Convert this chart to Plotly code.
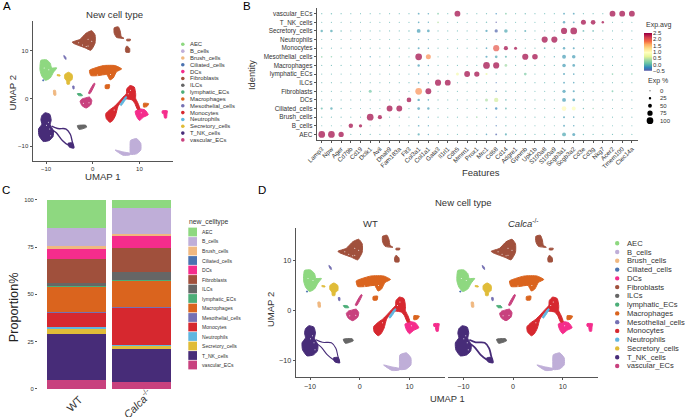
import plotly.graph_objects as go

W, H = 685, 417
FONT = "Liberation Sans"
DARK = "#333333"

# ---------- shared categories ----------
cell_types = ["AEC", "B_cells", "Brush_cells", "Ciliated_cells", "DCs", "Fibroblasts", "ILCs",
              "lymphatic_ECs", "Macrophages", "Mesothelial_cells", "Monocytes", "Neutrophils",
              "Secretory_cells", "T_NK_cells", "vascular_ECs"]
colors = ["#8ED880", "#BFAED8", "#F0B880", "#4A72B0", "#F52C8C", "#A0503C", "#666666",
          "#4CAE78", "#DA641E", "#7570B3", "#D6282F", "#60B6E0", "#E0BC38", "#472C78", "#C8417E"]

# ---------- panel C: proportions, bottom to top order is reversed cell_types ----------
prop_wt = [15.2, 9.4, 1.0, 0.1, 5.7, 12.9, 1.0, 0.8, 13.4, 0.3, 7.6, 1.1, 2.6, 24.2, 4.8]
prop_ko = [4.4, 13.8, 0.4, 0.1, 6.9, 12.7, 3.9, 0.4, 14.1, 0.4, 19.6, 0.2, 2.3, 17.3, 3.5]
conditions = ["WT", "<i>Calca</i><sup>-/-</sup>"]

# ---------- panel B: dot plot ----------
features = ["Lamp3", "Npw", "Ager", "Cd79b", "Cd19", "Dclk1", "Avil", "Dnah9", "Fam183a", "Flt3",
            "Col3a1", "Col1a1", "Gata3", "Il1rl1", "Cdh5", "Mmrn1", "Prox1", "Mrc1", "Cd68", "Cd14",
            "Adgre1", "Gpnmb", "Upk1b", "S100a8", "S100a9", "Scgb3a1", "Scgb3a2", "Cd3e", "Cd3g",
            "Nkg7", "Acer2", "Tmem100", "Clec14a"]
pct = {
 "AEC":               [100,100,75,3,3,5,5,3,3,3,22,8,5,3,3,3,3,10,15,20,3,5,3,3,3,50,35,8,5,3,5,3,3],
 "B_cells":           [3,3,3,60,40,3,3,2,2,3,12,6,3,3,3,3,3,3,6,6,2,3,3,2,2,15,10,3,3,3,3,3,3],
 "Brush_cells":       [5,5,5,3,3,100,55,3,3,3,6,5,3,3,3,3,10,3,5,5,3,3,3,3,3,18,10,3,3,3,3,3,3],
 "Ciliated_cells":    [20,25,6,3,3,5,3,85,85,5,30,25,5,3,3,3,3,10,25,15,3,5,5,3,3,65,50,8,6,3,3,3,3],
 "DCs":               [3,3,3,3,3,3,3,3,3,65,25,10,5,3,3,3,3,35,60,10,3,5,3,3,3,50,30,5,5,5,5,3,3],
 "Fibroblasts":       [3,5,3,3,3,35,3,3,3,3,100,85,3,3,5,3,3,5,10,8,3,3,3,3,3,40,20,3,5,3,15,3,3],
 "ILCs":              [3,3,3,3,3,3,3,3,3,3,12,8,90,85,3,3,3,3,5,3,3,3,3,3,3,15,10,3,3,3,3,3,3],
 "lymphatic_ECs":     [3,5,3,3,3,3,3,3,3,3,10,8,3,3,35,85,75,20,6,5,3,30,3,3,3,18,12,3,3,3,12,3,10],
 "Macrophages":       [3,5,5,3,3,3,3,3,3,3,25,10,3,3,3,3,3,100,90,30,3,5,5,3,3,45,30,3,3,3,3,3,3],
 "Mesothelial_cells": [12,10,5,3,3,8,3,3,3,3,100,70,3,3,3,3,3,20,30,20,3,90,80,3,8,50,45,3,3,3,3,3,3],
 "Monocytes":         [3,3,3,3,3,3,3,3,3,3,18,10,3,3,3,3,3,12,90,55,35,3,3,12,5,25,18,3,3,3,3,3,3],
 "Neutrophils":       [2,2,2,2,2,2,2,2,2,2,6,4,2,2,2,2,2,2,3,2,2,2,2,90,90,10,8,2,2,2,2,2,2],
 "Secretory_cells":   [25,28,10,3,3,3,3,3,3,8,50,30,3,3,3,3,3,22,40,45,3,18,3,3,3,90,100,15,12,3,3,3,3],
 "T_NK_cells":        [3,5,3,3,3,3,3,3,3,3,12,8,15,3,3,3,3,8,8,3,3,3,3,3,3,25,15,70,65,25,3,3,3],
 "vascular_ECs":      [5,8,5,3,3,3,3,3,3,3,15,10,15,3,85,3,3,5,10,15,3,8,3,3,3,15,15,5,5,3,85,85,85],
}
avg = {
 "AEC":               [2.5,2.5,2.5,0,0,0,0,0,0,0,-.05,-.1,0,0,0,0,0,-.1,-.4,-.05,0,0,0,0,0,-.05,-.1,0,0,0,0,0,0],
 "B_cells":           [0,0,0,2.5,2.5,0,0,0,0,0,-.1,-.1,0,0,0,0,0,0,-.3,0,0,0,0,0,0,-.1,-.1,0,0,0,0,0,0],
 "Brush_cells":       [0,0,0,0,0,2.5,2.5,0,0,0,-.1,-.1,0,0,0,0,.3,0,-.2,0,0,0,0,0,0,-.1,-.1,0,0,0,0,0,0],
 "Ciliated_cells":    [.05,-.05,0,0,0,0,0,2.5,2.5,0,-.1,-.1,0,0,0,0,0,-.1,-.2,0,0,0,0,0,0,1.05,.95,0,.2,0,0,0,0],
 "DCs":               [0,0,0,0,0,0,0,0,0,2.5,-.1,-.1,0,0,0,0,0,.4,.6,0,0,0,0,0,0,-.1,-.1,0,0,0,0,0,0],
 "Fibroblasts":       [0,0,0,0,0,.15,0,0,0,0,1.75,2.5,0,0,0,0,0,0,-.3,0,0,0,0,0,0,-.1,-.1,0,0,0,.15,0,0],
 "ILCs":              [0,0,0,0,0,0,0,0,0,0,-.1,-.1,2.5,2.5,0,0,0,0,-.3,0,0,0,0,0,0,-.1,-.1,0,0,0,0,0,0],
 "lymphatic_ECs":     [0,0,0,0,0,0,0,0,0,0,-.1,-.1,0,0,.85,2.5,2.5,.7,0,0,0,.2,0,0,0,-.1,-.1,0,0,0,.2,0,.15],
 "Macrophages":       [0,0,0,0,0,0,0,0,0,0,-.1,-.1,0,0,0,0,0,2.5,2.5,.35,0,0,0,0,0,-.1,-.1,0,0,0,0,0,0],
 "Mesothelial_cells": [.25,.2,0,0,0,-.1,0,0,0,0,2.5,1.75,0,0,0,0,0,-.1,-.05,0,0,2.5,2.5,0,-.05,-.1,-.1,0,0,0,0,0,0],
 "Monocytes":         [0,0,0,0,0,0,0,0,0,0,-.1,-.1,0,0,0,0,0,-.1,2.05,2.5,2.5,0,0,-.05,0,-.1,-.1,0,0,0,0,0,0],
 "Neutrophils":       [0,0,0,0,0,0,0,0,0,0,-.1,-.1,0,0,0,0,0,0,-.1,0,0,0,0,2.5,2.5,-.1,-.1,0,0,0,0,0,0],
 "Secretory_cells":   [-.05,-.05,0,0,0,0,0,0,0,0,-.1,-.1,0,0,0,0,0,-.1,-.4,-.05,0,-.05,0,0,0,2.5,2.5,0,0,0,0,0,0],
 "T_NK_cells":        [0,0,0,0,0,0,0,0,0,0,-.1,-.1,.45,0,0,0,0,0,-.45,0,0,0,0,0,0,-.1,-.1,2.5,2.5,2.5,0,0,0],
 "vascular_ECs":      [0,0,0,0,0,0,0,0,0,0,-.1,-.1,.2,0,2.5,0,0,0,-.2,.2,0,0,0,0,0,-.1,-.1,0,0,0,2.5,2.5,2.5],
}
exp_pct_levels = [0, 25, 50, 75, 100]
avg_ticks = [-0.5, 0.0, 0.5, 1.0, 1.5, 2.0, 2.5]
avg_scale = [-0.5, -0.2, 0.1, 0.4, 0.7, 1.0, 1.3, 1.6, 1.9, 2.2, 2.5]

# ---------- UMAP cluster outlines (UMAP coordinates) ----------
outlines = {
 "AEC": [[(-11.1,8),(-9.9,8.1),(-9.1,7.4),(-8.8,6.4),(-7.7,6.4),(-8.4,5.5),(-9.1,4.3),(-10.1,3.8),(-10.9,4.7),(-11.3,6)]],
 "B_cells": [[(8.1,-8.8),(9.4,-8.4),(10.3,-9.4),(10.3,-10.8),(9.4,-11.6),(8.1,-11.7),(8,-10.1)],
             [(4.8,-10.8),(6.5,-11.2),(8,-11.5),(8,-11.8),(6.5,-11.9)]],
 "Brush_cells": [[(-8.4,1.7),(-8,1.7),(-7.9,0.7),(-8.3,0.7)]],
 "Ciliated_cells": [[(-10.7,3.9),(-10.5,3.9),(-10.5,3.7),(-10.7,3.7)]],
 "DCs": [[(9.1,-2.7),(10.1,-2.2),(11.2,-2.4),(11.9,-3.4),(10.9,-3.9),(10,-4.6),(9.4,-3.8)],
         [(14.9,-2.6),(16,-2.6),(15.9,-3.3),(15.8,-4.1),(15.4,-4.1),(15.2,-3.2),(14.9,-3.1)]],
 "Fibroblasts": [[(-4.4,11.8),(-2.7,12.4),(-1.4,13.7),(-0.2,14.2),(0.5,13.3),(0.5,11.6),(-0.4,10.1),(-1.6,10.6),(-2.7,11),(-4,11.5)],
                 [(4.6,14.8),(5.5,15),(5.9,14.1),(6.1,13),(6.7,12.6),(5.1,12.8),(4.6,13.7)],
                 [(7.3,11),(7.9,10.5),(7.9,9.7),(7.1,9.7),(7,10.4)],
                 [(7.3,12.4),(8.1,12.4),(8,12.1),(7.3,12.1)]],
 "ILCs": [[(-3.3,-5.7),(-1.5,-5.6),(-1.3,-6),(-2.9,-6.5)]],
 "lymphatic_ECs": [[(-3.3,1),(-2.5,1),(-2.2,0.6),(-3,0.6)]],
 "Macrophages": [[(-0.7,5.9),(0.5,6.4),(2.3,6.9),(4.8,6.9),(6.2,6.2),(5.1,5.6),(4.4,4.3),(3.7,3.9),(3,5),(1.2,4.8),(-0.4,4.8)],
                 [(2.7,2.8),(3.6,2.9),(3.5,2.1),(2.7,2.1)],
                 [(10.9,-1),(12,-1.1),(11.6,-1.7),(10.9,-1.8)]],
 "Mesothelial_cells": [[(-6.2,9),(-5.8,8.7),(-5.7,8.2),(-6,8.4)],[(-4.3,2.6),(-4,2.6),(-4,2),(-4.2,2)]],
 "Monocytes": [[(7.3,2),(8,2.7),(8.9,2.4),(9.2,1),(9.2,0),(9.7,-1),(10.1,-2.2),(9.6,-2.3),(9,-1),(8.4,-0.3),(7.2,-0.1),
                (6.3,-0.5),(5.4,-1.7),(4.9,-3.5),(4.3,-4.6),(3.7,-5),(2.9,-4.2),(2.8,-3.2),(3.6,-2.4),(4.6,-1.7),
                (5.6,-0.7),(6.7,0.5),(7.2,1)]],
 "Neutrophils": [[(5.9,-1.3),(7.1,0.4),(7.3,0.3),(6.1,-1.5)]],
 "Secretory_cells": [[(-6,5),(-5.2,5.5),(-4.4,5),(-4.4,4),(-4.9,3.6),(-5,3),(-5.5,3),(-5.6,3.7),(-6,4.2)],
                     [(-7.6,5),(-7,4.9),(-7,4.7),(-7.6,4.8)]],
 "T_NK_cells": [[(-10.9,-3.6),(-10.2,-3),(-9.2,-3.3),(-8.9,-4.5),(-9.1,-5.5),(-8.4,-6.8),(-8.5,-8),(-9.3,-8.8),
                 (-10.6,-9),(-11.5,-7.8),(-11.6,-6.4),(-10.9,-5.4),(-11.1,-4.5)],
                [(-5.3,-9.4),(-4.4,-9.3),(-4,-10.4),(-5,-10.2)]],
 "vascular_ECs": [[(-1.6,0.1),(-0.7,0.3),(-0.2,-0.4),(-0.4,-1.3),(-1.4,-2),(-2.3,-1.5),(-2.7,-0.6),(-2.3,-0.1)],
                  [(-0.9,1.1),(0.3,3.2),(0.5,3.1),(-0.6,1)]],
}
tnk_loop_x = [-8.8,-7.5,-5.7,-4.8,-4.4,-4.1,-5.2,-6.5,-7.8,-8.8]
tnk_loop_y = [-5.8,-6.3,-6.4,-7.5,-9,-10.2,-9.8,-8.8,-7.2,-6.5]
# white gaps between cells seen inside the large clusters
gap_x = [-2.2,-3,-1,-9.5,-9.2,-9,-9.9,-1.4,1,3.8,8.1,7.6,4.6,10.4,-10.4,-9.4,-2,-0.8,-1,-0.2]
gap_y = [11.2,11.7,11,-5,-6.4,-7.8,-5.6,10.9,4.9,5,1.7,1,-2.4,-3,6.4,6,-1,-0.9,12.4,12]

# ---------- layout helpers ----------
def dom_x(a, b):
    return [a / W, b / W]

def dom_y(bottom, top):
    return [1 - bottom / H, 1 - top / H]

fig = go.Figure()
shapes, notes = [], []

def text(x, y, s, size, color=DARK, anchor="left", angle=0, family=FONT):
    notes.append(dict(xref="paper", yref="paper", x=x / W, y=1 - y / H, text=s, showarrow=False,
                      xanchor=anchor, yanchor="middle", textangle=angle, borderpad=0,
                      font=dict(family=family, size=size, color=color)))

def umap_panel(xa, ya, loop_width=1.4, marker_gap=1.0):
    for name, col in zip(cell_types, colors):
        xs, ys = [], []
        for poly in outlines[name]:
            xs += [p[0] for p in poly] + [poly[0][0], None]
            ys += [p[1] for p in poly] + [poly[0][1], None]
        fig.add_trace(go.Scatter(x=xs, y=ys, mode="lines", fill="toself", fillcolor=col,
                                 line=dict(color=col, width=1, shape="spline", smoothing=0.5), xaxis=xa, yaxis=ya,
                                 name=name, showlegend=False, hoverinfo="name"))
    fig.add_trace(go.Scatter(x=tnk_loop_x, y=tnk_loop_y, mode="lines",
                             line=dict(color=colors[13], width=loop_width, shape="spline"),
                             xaxis=xa, yaxis=ya, showlegend=False, hoverinfo="skip"))
    fig.add_trace(go.Scatter(x=gap_x, y=gap_y, mode="markers", marker=dict(color="white", size=marker_gap),
                             xaxis=xa, yaxis=ya, showlegend=False, hoverinfo="skip"))

def axis_style(size=7, **kw):
    base = dict(automargin=False, showgrid=False, zeroline=False, showline=True, linecolor="#555555", linewidth=1,
                ticks="outside", ticklen=2, tickwidth=0.7, tickcolor="#555555",
                tickfont=dict(family=FONT, size=size, color=DARK))
    base.update(kw)
    return base

umap_ticks = [-10, 0, 10]

# ---------- panel A ----------
umap_panel("x", "y")
fig.update_layout(
    xaxis=axis_style(size=6, domain=dom_x(32.5, 173), range=[-12.9, 17.2], tickvals=umap_ticks, anchor="y"),
    yaxis=axis_style(size=6, domain=dom_y(161, 20.7), range=[-13.1, 16.3], tickvals=umap_ticks, anchor="x"),
)
text(114, 14, "New cell type", 9.6, anchor="center")
text(103, 176, "UMAP 1", 9.6, anchor="center")
text(12.5, 92, "UMAP 2", 9.6, anchor="center", angle=-90)
for i, (name, col) in enumerate(zip(cell_types, colors)):
    cy = 44.3 + 6.83 * i
    shapes.append(dict(type="circle", xref="paper", yref="paper", x0=181 / W, x1=184.6 / W,
                       y0=1 - (cy + 1.8) / H, y1=1 - (cy - 1.8) / H, fillcolor=col, line=dict(width=0)))
    text(189.3, cy, name, 5.9)

# ---------- panel B ----------
rows = cell_types
dx, dy, ds, dc = [], [], [], []
for r in rows:
    for f, p, a in zip(features, pct[r], avg[r]):
        dx.append(f); dy.append(r); ds.append(1 + 0.057 * p); dc.append(a)
spectral = ["#5e4fa2", "#3288bd", "#66c2a5", "#abdda4", "#e6f598", "#ffffbf",
            "#fee08b", "#fdae61", "#f46d43", "#d53e4f", "#9e0142"]
fig.add_trace(go.Scatter(
    x=dx, y=dy, mode="markers", xaxis="x2", yaxis="y2", showlegend=False,
    marker=dict(size=ds, sizemode="diameter", color=dc, cmin=-0.5, cmax=2.5, colorscale=spectral,
                line=dict(width=0), showscale=False)))
fig.update_layout(
    xaxis2=axis_style(domain=dom_x(316.7, 637.7), range=[-0.52, 32.6], anchor="y2", type="category",
                      categoryorder="array", categoryarray=features, tickangle=-45, size=6.2, tickvals=features),
    yaxis2=axis_style(domain=dom_y(140, 8), range=[-0.65, 14.66], anchor="x2", type="category",
                      categoryorder="array", categoryarray=rows, size=6.4, tickvals=rows),
)
# colour bar as a small heatmap on its own axes
fig.add_trace(go.Heatmap(x=["bar"], y=avg_scale, z=[[v] for v in avg_scale], zmin=-0.5, zmax=2.5,
                         colorscale=spectral, showscale=False, zsmooth="best", xaxis="x6", yaxis="y6",
                         hoverinfo="skip"))
fig.update_layout(
    xaxis6=dict(automargin=False, domain=dom_x(644, 652), visible=False, anchor="y6"),
    yaxis6=dict(automargin=False, domain=dom_y(70.7, 33), range=[-0.5, 2.5], side="right", anchor="x6", showgrid=False,
                zeroline=False, showline=False, ticks="", tickvals=avg_ticks, tickformat=".1f",
                tickfont=dict(family=FONT, size=6, color=DARK)),
)
text(481, 172, "Features", 9.5, anchor="center")
text(252, 75, "Identity", 9.3, anchor="center", angle=-90)
text(645, 25.5, "Exp.avg", 7)
text(646.7, 81, "Exp %", 7)
for i, p in enumerate(exp_pct_levels):
    cy = 90.7 + 7.5 * i
    d = 1 + 0.057 * p
    shapes.append(dict(type="circle", xref="paper", yref="paper", x0=(650 - d / 2) / W, x1=(650 + d / 2) / W,
                       y0=1 - (cy + d / 2) / H, y1=1 - (cy - d / 2) / H, fillcolor="black", line=dict(width=0)))
    text(659, cy, str(p), 6)

# ---------- panel C ----------
for i in range(14, -1, -1):
    fig.add_trace(go.Bar(x=conditions, y=[prop_wt[i], prop_ko[i]], name=cell_types[i], xaxis="x3", yaxis="y3",
                         marker=dict(color=colors[i], line=dict(width=0)), width=0.9, showlegend=False))
fig.update_layout(
    barmode="stack", bargap=0.1,
    xaxis3=axis_style(domain=dom_x(38, 177), range=[-0.59, 1.55], anchor="y3", type="category", showline=False,
                      ticks="", showticklabels=False),
    yaxis3=axis_style(domain=dom_y(392, 198), range=[-1.75, 101], anchor="x3", showline=False, size=5.8,
                      tickvals=[0, 25, 50, 75, 100]),
)
for label, lx in zip(conditions, [74, 137]):
    text(lx, 404, label, 10.8, anchor="center", angle=-45)
text(14.3, 307, "Proportion%", 12.7, anchor="center", angle=-90, color="#222222")
text(188, 221.7, "new_celltype", 6.8)
for i, (name, col) in enumerate(zip(cell_types, colors)):
    cy = 232 + 9.5 * i
    shapes.append(dict(type="rect", xref="paper", yref="paper", x0=188.3 / W, x1=197 / W,
                       y0=1 - (cy + 4.4) / H, y1=1 - (cy - 4.4) / H, fillcolor=col, line=dict(width=0)))
    text(200.7, cy, name, 5.1)

# ---------- panel D ----------
umap_panel("x4", "y4", loop_width=1.1)
umap_panel("x5", "y4", loop_width=1.8)
d_xr_wt = [(295.7 - 359.7) / 4.97, (445 - 359.7) / 4.97]
d_xr_ko = [(448.3 - 513) / 4.97, (597.7 - 513) / 4.97]
fig.update_layout(
    xaxis4=axis_style(size=7.2, domain=dom_x(295.7, 445), range=d_xr_wt, anchor="y4", tickvals=umap_ticks),
    yaxis4=axis_style(size=7.2, domain=dom_y(377, 227.7), range=[-13.2, 16.5], anchor="x4", tickvals=umap_ticks),
    xaxis5=axis_style(size=7.2, domain=dom_x(448.3, 597.7), range=d_xr_ko, anchor="y4", tickvals=umap_ticks),
)
text(463, 202, "New cell type", 9.5, anchor="center")
text(370, 223.3, "WT", 9.5, anchor="center")
text(523, 223, "<i>Calca</i><sup>-/-</sup>", 9.5, anchor="center")
text(447.5, 398, "UMAP 1", 9.4, anchor="center")
text(270, 310, "UMAP 2", 9.5, anchor="center", angle=-90)
for i, (name, col) in enumerate(zip(cell_types, colors)):
    cy = 243.3 + 8.76 * i
    shapes.append(dict(type="circle", xref="paper", yref="paper", x0=615 / W, x1=619.4 / W,
                       y0=1 - (cy + 2.2) / H, y1=1 - (cy - 2.2) / H, fillcolor=col, line=dict(width=0)))
    text(625.7, cy, name, 7.6)

# panel letters
for s, x, y in [("A", 2, 6), ("B", 242, 6), ("C", 1, 190), ("D", 257, 190)]:
    text(x, y, s, 11.5, color="black")

fig.update_layout(width=W, height=H, margin=dict(l=0, r=0, t=0, b=0), paper_bgcolor="white", plot_bgcolor="white",
                  shapes=shapes, annotations=notes, font=dict(family=FONT), showlegend=False)
fig.write_html("out.html", post_script="document.body.style.margin='0';", config={"displayModeBar": False})
